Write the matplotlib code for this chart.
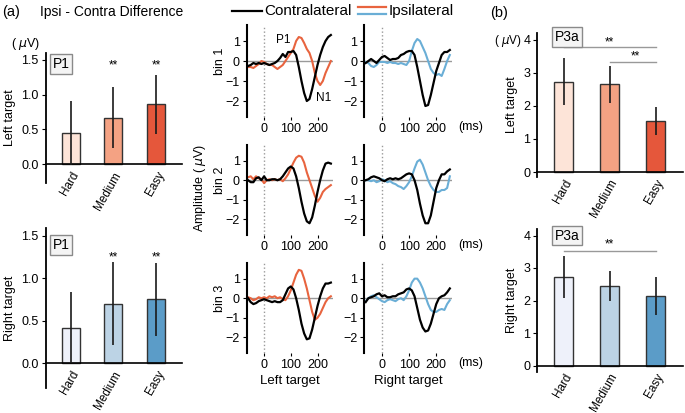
import numpy as np
import matplotlib.pyplot as plt
from matplotlib.lines import Line2D

plt.rcParams['font.family'] = ['Liberation Sans', 'DejaVu Sans']

W, H = 685, 413

# ---- data ----
conds = ['Hard', 'Medium', 'Easy']
orange_cols = ['#fde4d8', '#f4a283', '#e5573b']
blue_cols = ['#eef1fa', '#bcd3e5', '#5b9cc8']

p1_left = [0.45, 0.67, 0.86]
p1_left_err = [0.46, 0.44, 0.42]
p1_right = [0.42, 0.70, 0.75]
p1_right_err = [0.42, 0.49, 0.43]

p3a_left = [2.73, 2.65, 1.55]
p3a_left_err = [0.70, 0.55, 0.42]
p3a_right = [2.72, 2.44, 2.13]
p3a_right_err = [0.64, 0.47, 0.58]

times = list(range(-60, 251, 10))

bin1_left_contra = [-0.25, -0.2, -0.1, -0.15, -0.1, -0.15, -0.1, -0.15, -0.2, -0.15, -0.1, 0.0, 0.15, 0.35, 0.2, 0.45,
                    0.45, 0.5, 0.3, -0.3, -1.0, -1.6, -2.0, -1.9, -1.4, -0.8, -0.2, 0.3, 0.7, 1.0, 1.2, 1.3]
bin1_left_ipsi = [-0.3, -0.3, -0.35, -0.25, -0.15, 0.0, -0.05, -0.15, -0.2, -0.2, -0.3, -0.4, -0.3, -0.2, 0.0, 0.2,
                  0.4, 0.6, 1.0, 1.2, 1.15, 0.9, 0.6, 0.4, 0.0, -0.6, -1.0, -1.2, -1.0, -0.6, -0.3, 0.0]
bin1_right_contra = [-0.1, 0.0, 0.1, 0.0, -0.1, 0.05, 0.2, 0.25, 0.15, 0.05, 0.1, 0.1, 0.15, 0.3, 0.35, 0.45,
                     0.5, 0.5, 0.3, -0.3, -1.0, -1.7, -2.25, -2.2, -1.7, -1.1, -0.5, -0.1, 0.3, 0.45, 0.45, 0.55]
bin1_right_ipsi = [-0.05, -0.1, -0.25, -0.3, -0.2, -0.05, -0.05, -0.05, -0.1, -0.05, -0.1, -0.1, -0.15, -0.1, -0.15, -0.2,
                   0.0, 0.5, 0.9, 1.1, 1.0, 0.7, 0.4, 0.0, -0.4, -0.6, -0.7, -0.65, -0.75, -0.4, 0.0, 0.3]

bin2_left_contra = [0.0, -0.1, -0.1, 0.1, 0.15, 0.0, 0.2, 0.0, 0.0, 0.05, 0.05, 0.0, 0.05, 0.2, 0.4, 0.6,
                    0.7, 0.6, 0.2, -0.4, -1.1, -1.7, -2.1, -2.2, -1.9, -1.3, -0.6, 0.0, 0.5, 0.85, 0.9, 0.85]
bin2_left_ipsi = [0.15, 0.2, 0.05, 0.2, 0.1, 0.05, -0.15, 0.0, 0.05, 0.0, 0.05, 0.0, 0.05, -0.05, 0.1, 0.3,
                  0.6, 0.9, 1.15, 1.25, 1.2, 0.9, 0.4, 0.0, -0.4, -0.8, -1.1, -0.9, -0.6, -0.45, -0.35, -0.25]
bin2_right_contra = [0.0, 0.05, 0.15, 0.2, 0.15, 0.1, 0.0, -0.05, 0.05, 0.1, 0.05, 0.1, 0.05, 0.1, 0.2, 0.3,
                     0.35, 0.3, 0.0, -0.5, -1.2, -1.8, -2.2, -2.2, -1.8, -1.1, -0.4, 0.0, 0.3, 0.3, 0.45, 0.55]
bin2_right_ipsi = [0.0, 0.0, -0.05, 0.0, -0.1, -0.05, 0.05, 0.0, -0.1, -0.05, -0.15, -0.2, -0.3, -0.35, -0.45, -0.3,
                   -0.1, 0.2, 0.6, 0.95, 1.05, 0.8, 0.4, 0.0, -0.3, -0.5, -0.6, -0.6, -0.5, -0.5, -0.4, 0.2]

bin3_left_contra = [0.0, -0.2, -0.3, -0.25, -0.15, -0.1, -0.05, -0.1, -0.15, -0.2, -0.15, -0.2, -0.2, -0.1, 0.2, 0.5,
                    0.6, 0.45, 0.0, -0.6, -1.3, -1.8, -2.1, -2.05, -1.6, -1.0, -0.4, 0.1, 0.5, 0.75, 0.75, 0.8]
bin3_left_ipsi = [0.05, 0.0, -0.1, -0.05, 0.05, 0.0, 0.05, 0.0, 0.1, 0.05, 0.1, 0.0, 0.05, -0.05, -0.1, 0.1,
                  0.4, 0.8, 1.2, 1.45, 1.4, 1.0, 0.5, -0.1, -0.7, -1.1, -1.0, -0.8, -0.5, -0.2, 0.0, 0.1]
bin3_right_contra = [-0.2, 0.0, 0.05, 0.1, 0.2, 0.25, 0.1, 0.15, 0.05, 0.05, 0.1, 0.1, 0.2, 0.25, 0.3, 0.45,
                     0.5, 0.4, 0.1, -0.5, -1.1, -1.5, -1.7, -1.65, -1.3, -0.8, -0.3, 0.0, 0.1, 0.15, 0.3, 0.5]
bin3_right_ipsi = [-0.15, 0.0, 0.1, 0.15, 0.05, -0.05, -0.15, -0.2, -0.1, -0.05, -0.1, -0.15, -0.05, 0.0, -0.1, 0.1,
                   0.4, 0.8, 1.0, 1.0, 0.8, 0.5, 0.1, -0.3, -0.6, -0.7, -0.7, -0.6, -0.55, -0.6, -0.3, -0.1]

ORANGE = '#e8643f'
BLUE = '#6aaed6'

fig = plt.figure(figsize=(6.85, 4.13), dpi=100)


def rect(x0, y0, x1, y1):
    return [x0 / W, 1 - y1 / H, (x1 - x0) / W, (y1 - y0) / H]


def bar_panel(r, vals, errs, colors, ylim, yticks, fmt, ylabel, label, label_xy):
    ax = fig.add_axes(r)
    x = np.arange(len(conds))
    ax.bar(x, vals, width=0.42, color=colors, edgecolor='#333333', linewidth=1.0, zorder=2)
    ax.errorbar(x, vals, yerr=errs, fmt='none', ecolor='#1a1a1a', elinewidth=1.2, capsize=0, zorder=3)
    ax.set_xlim(-0.58, 2.6)
    ax.set_ylim(*ylim)
    ax.set_yticks(yticks)
    ax.set_yticklabels([fmt.format(t) for t in yticks])
    for s in ['top', 'right']:
        ax.spines[s].set_visible(False)
    ax.spines['bottom'].set_position(('data', 0))
    ax.spines['bottom'].set_linewidth(1.2)
    ax.spines['left'].set_linewidth(1.3)
    ax.set_xticks(x)
    ax.set_xticklabels(conds, rotation=60, ha='right', rotation_mode='anchor')
    ax.tick_params(axis='x', length=0, pad=4, labelsize=8.5)
    ax.tick_params(axis='y', length=3, pad=2, labelsize=9)
    ax.set_ylabel(ylabel, fontsize=9, labelpad=4)
    ax.text(label_xy[0], label_xy[1], label, fontsize=10, ha='center', va='center',
            bbox=dict(boxstyle='square,pad=0.2', fc='#f4f4f4', ec='#8a8a8a', lw=1))
    return ax


# panel (a) bar charts
ax = bar_panel(rect(45.7, 53, 182, 183), p1_left, p1_left_err, orange_cols, (-0.27, 1.6),
               [0.0, 0.5, 1.0, 1.5], '{:.1f}', 'Left target', 'P1', (-0.22, 1.44))
for i in [1, 2]:
    ax.text(i, 1.42, '**', ha='center', va='center', fontsize=8.5)

ax = bar_panel(rect(45.7, 228, 182, 388), p1_right, p1_right_err, blue_cols, (-0.29, 1.59),
               [0.0, 0.5, 1.0, 1.5], '{:.1f}', 'Right target', 'P1', (-0.22, 1.39))
for i in [1, 2]:
    ax.text(i, 1.24, '**', ha='center', va='center', fontsize=8.5)

# panel (b) bar charts
ax = bar_panel(rect(537.3, 33, 683, 177), p3a_left, p3a_left_err, orange_cols, (-0.15, 4.2),
               [0, 1, 2, 3, 4], '{:d}', 'Left target', 'P3a', (0.07, 4.08))
ax.plot([0, 2], [3.78, 3.78], color='#999999', lw=1)
ax.text(1, 3.92, '**', ha='center', va='center', fontsize=8.5)
ax.plot([1, 2], [3.33, 3.33], color='#999999', lw=1)
ax.text(1.55, 3.48, '**', ha='center', va='center', fontsize=8.5)

ax = bar_panel(rect(537.3, 229, 683, 372), p3a_right, p3a_right_err, blue_cols, (-0.2, 4.2),
               [0, 1, 2, 3, 4], '{:d}', 'Right target', 'P3a', (0.07, 4.0))
ax.plot([0, 2], [3.52, 3.52], color='#999999', lw=1)
ax.text(1, 3.72, '**', ha='center', va='center', fontsize=8.5)


# ERP panels
def erp_panel(r, contra, ipsi, col):
    ax = fig.add_axes(r)
    ax.axhline(0, color='#9a9a9a', lw=1, zorder=1)
    ax.axvline(0, color='#9a9a9a', ls=':', lw=1, zorder=1)
    ax.plot(times, ipsi, color=col, lw=1.5, zorder=2)
    ax.plot(times, contra, color='black', lw=1.6, zorder=3)
    ax.set_xlim(-65, 258)
    ax.set_ylim(-2.8, 1.8)
    for s in ['top', 'right', 'bottom']:
        ax.spines[s].set_visible(False)
    ax.spines['left'].set_linewidth(1.5)
    ax.set_xticks([0, 100, 200])
    ax.set_yticks([1, 0, -1, -2])
    ax.tick_params(axis='x', length=2, pad=2, labelsize=9)
    ax.tick_params(axis='y', length=3, pad=2, labelsize=9)
    return ax


rows = [(25, 117), (145, 235), (263, 353)]
data_rows = [
    (bin1_left_contra, bin1_left_ipsi, bin1_right_contra, bin1_right_ipsi),
    (bin2_left_contra, bin2_left_ipsi, bin2_right_contra, bin2_right_ipsi),
    (bin3_left_contra, bin3_left_ipsi, bin3_right_contra, bin3_right_ipsi),
]
for k, ((y0, y1), (lc, li, rc, ri)) in enumerate(zip(rows, data_rows)):
    axl = erp_panel(rect(246.7, y0, 333, y1), lc, li, ORANGE)
    axr = erp_panel(rect(364.3, y0, 452, y1), rc, ri, BLUE)
    zero_y = y0 + (y1 - y0) * 1.8 / 4.6
    fig.text(220 / W, 1 - zero_y / H, 'bin %d' % (k + 1), rotation=90, ha='center', va='center', fontsize=9)
    fig.text(458 / W, 1 - (y1 + 10) / H, '(ms)', ha='left', va='center', fontsize=9)
    if k == 0:
        axl.text(70, 1.05, 'P1', fontsize=8.5, ha='center', va='center')
        axl.text(222, -1.85, 'N1', fontsize=8.5, ha='center', va='center')

fig.text(200 / W, 1 - 188 / H, 'Amplitude ( $\\mu$V)', rotation=90, ha='center', va='center', fontsize=9)
fig.text(290 / W, 1 - 381 / H, 'Left target', ha='center', va='center', fontsize=9.5)
fig.text(408 / W, 1 - 381 / H, 'Right target', ha='center', va='center', fontsize=9.5)

# legend
fig.add_artist(Line2D([232 / W, 262 / W], [1 - 11 / H, 1 - 11 / H], color='black', lw=1.6))
fig.text(264 / W, 1 - 11 / H, 'Contralateral', ha='left', va='center', fontsize=11)
fig.add_artist(Line2D([358 / W, 386 / W], [1 - 7 / H, 1 - 7 / H], color=ORANGE, lw=1.6))
fig.add_artist(Line2D([358 / W, 386 / W], [1 - 13.5 / H, 1 - 13.5 / H], color=BLUE, lw=1.6))
fig.text(389 / W, 1 - 11 / H, 'Ipsilateral', ha='left', va='center', fontsize=11)

# headings
fig.text(2 / W, 1 - 12 / H, '(a)', ha='left', va='center', fontsize=10.5)
fig.text(40 / W, 1 - 12 / H, 'Ipsi - Contra Difference', ha='left', va='center', fontsize=10)
fig.text(490 / W, 1 - 13 / H, '(b)', ha='left', va='center', fontsize=10.5)
fig.text(26 / W, 1 - 44 / H, '( $\\mu$V)', ha='center', va='center', fontsize=9)
fig.text(508 / W, 1 - 41 / H, '( $\\mu$V)', ha='center', va='center', fontsize=8.5)

fig.savefig('out.png', dpi=100)
